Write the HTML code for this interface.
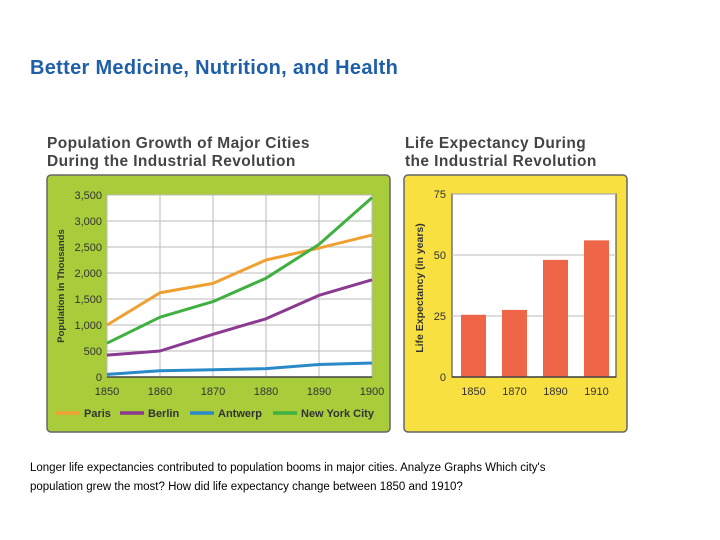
<!DOCTYPE html>
<html><head><meta charset="utf-8"><style>
body{margin:0;width:720px;height:540px;background:#fff;font-family:"Liberation Sans",sans-serif;position:relative;overflow:hidden}
.t{position:absolute}
</style></head><body>
<div class="t" style="left:30px;top:57px;font-size:20px;font-weight:bold;color:#1f5fa8;letter-spacing:0.3px">Better Medicine, Nutrition, and Health</div>
<svg width="720" height="540" style="position:absolute;left:0;top:0">
<g id="pop"></g>
<g id="life"></g>
</svg>
<div class="t" style="left:30px;top:459px;font-size:11.5px;line-height:19px;color:#000;width:570px">Longer life expectancies contributed to population booms in major cities. Analyze Graphs Which city's population grew the most? How did life expectancy change between 1850 and 1910?</div>
<script>
const years=[1850,1860,1870,1880,1890,1900];
const popTicks=[0,500,1000,1500,2000,2500,3000,3500];
const paris=[1000,1620,1800,2250,2480,2730];
const berlin=[420,500,820,1120,1570,1870];
const antwerp=[50,120,140,160,240,270];
const nyc=[650,1150,1450,1900,2550,3450];
const lifeYears=[1850,1870,1890,1910];
const lifeVals=[25.5,27.5,48,56];
const lifeTicks=[0,25,50,75];
const NS='http://www.w3.org/2000/svg';
function mk(p,tag,a,txt){const e=document.createElementNS(NS,tag);for(const k in a)e.setAttribute(k,a[k]);if(txt!==undefined)e.textContent=txt;p.appendChild(e);return e;}
const pop=document.getElementById('pop');
const F='"Liberation Sans",sans-serif';
let e;
e=mk(pop,'text',{x:47,y:148,'font-size':15.5,'font-weight':'bold',fill:'#444','font-family':F,'letter-spacing':0.4},'Population Growth of Major Cities');

e=mk(pop,'text',{x:47,y:166,'font-size':15.5,'font-weight':'bold',fill:'#444','font-family':F,'letter-spacing':0.4},'During the Industrial Revolution');

e=mk(pop,'rect',{x:47,y:175,width:343,height:257,rx:4,fill:'#a8cc3a',stroke:'#666','stroke-width':1.5});

const px0=107,px1=372,py0=377,py1=195;
const sx=v=>px0+(v-1850)/50*(px1-px0);
const sy=v=>py0-v/3500*(py0-py1);
e=mk(pop,'rect',{x:px0,y:py1,width:px1-px0,height:py0-py1,fill:'#fff',stroke:'#555','stroke-width':1});

popTicks.forEach(t=>{e=mk(pop,'line',{x1:px0,x2:px1,y1:sy(t),y2:sy(t),stroke:'#bbb','stroke-width':1});

e=mk(pop,'text',{x:px0-5,y:sy(t)+4,'font-size':11,'text-anchor':'end',fill:'#333','font-family':F},t.toLocaleString('en-US'));
});
years.forEach(y=>{e=mk(pop,'line',{x1:sx(y),x2:sx(y),y1:py1,y2:py0,stroke:'#bbb','stroke-width':1});

e=mk(pop,'text',{x:sx(y),y:395,'font-size':11,'text-anchor':'middle',fill:'#333','font-family':F},y);
});
mk(pop,'line',{x1:px0,x2:px1,y1:py0,y2:py0,stroke:'#444','stroke-width':1.5});
e=mk(pop,'text',{transform:'translate(64,286) rotate(-90)','font-size':9.5,'font-weight':'bold','text-anchor':'middle',fill:'#333','font-family':F},'Population in Thousands');

const series=[['paris',paris,'#f0a030','Paris'],['berlin',berlin,'#8a3a90','Berlin'],['antwerp',antwerp,'#2a8ac8','Antwerp'],['nyc',nyc,'#40b040','New York City']];
series.forEach(s=>{e=mk(pop,'polyline',{points:s[1].map((v,i)=>sx(years[i])+','+sy(v)).join(' '),fill:'none',stroke:s[2],'stroke-width':3,'stroke-linejoin':'round'});
});
const lx=[56,120,190,273];
series.forEach((s,i)=>{e=mk(pop,'line',{x1:lx[i],x2:lx[i]+24,y1:413,y2:413,stroke:s[2],'stroke-width':3.5});

e=mk(pop,'text',{x:lx[i]+28,y:417,'font-size':11,'font-weight':'bold',fill:'#333','font-family':F},s[3]);
});

const life=document.getElementById('life');
e=mk(life,'text',{x:405,y:148,'font-size':15.5,'font-weight':'bold',fill:'#444','font-family':F,'letter-spacing':0.4},'Life Expectancy During');

e=mk(life,'text',{x:405,y:166,'font-size':15.5,'font-weight':'bold',fill:'#444','font-family':F,'letter-spacing':0.4},'the Industrial Revolution');

e=mk(life,'rect',{x:404,y:175,width:223,height:257,rx:4,fill:'#f8e040',stroke:'#666','stroke-width':1.5});

const lx0=452,lx1=616,ly0=377,ly1=194;
const ly=v=>ly0-v/75*(ly0-ly1);
e=mk(life,'rect',{x:lx0,y:ly1,width:lx1-lx0,height:ly0-ly1,fill:'#fff',stroke:'#555','stroke-width':1.2});

lifeTicks.forEach(t=>{e=mk(life,'line',{x1:lx0,x2:lx1,y1:ly(t),y2:ly(t),stroke:'#bbb','stroke-width':1});

e=mk(life,'text',{x:lx0-6,y:ly(t)+4,'font-size':11,'text-anchor':'end',fill:'#333','font-family':F},t);
});
const bw=25,step=(lx1-lx0)/lifeYears.length;
lifeYears.forEach((y,i)=>{const cx=lx0+step*(i+0.5)+1;
e=mk(life,'rect',{x:cx-bw/2,y:ly(lifeVals[i]),width:bw,height:ly0-ly(lifeVals[i]),fill:'#ee6548'});

e=mk(life,'text',{x:cx,y:395,'font-size':11,'text-anchor':'middle',fill:'#333','font-family':F},y);
});
mk(life,'line',{x1:lx0,x2:lx1,y1:ly0,y2:ly0,stroke:'#444','stroke-width':1.5});
e=mk(life,'text',{transform:'translate(423,288) rotate(-90)','font-size':10.5,'font-weight':'bold','text-anchor':'middle',fill:'#333','font-family':F},'Life Expectancy (in years)');

</script>
</body></html>
